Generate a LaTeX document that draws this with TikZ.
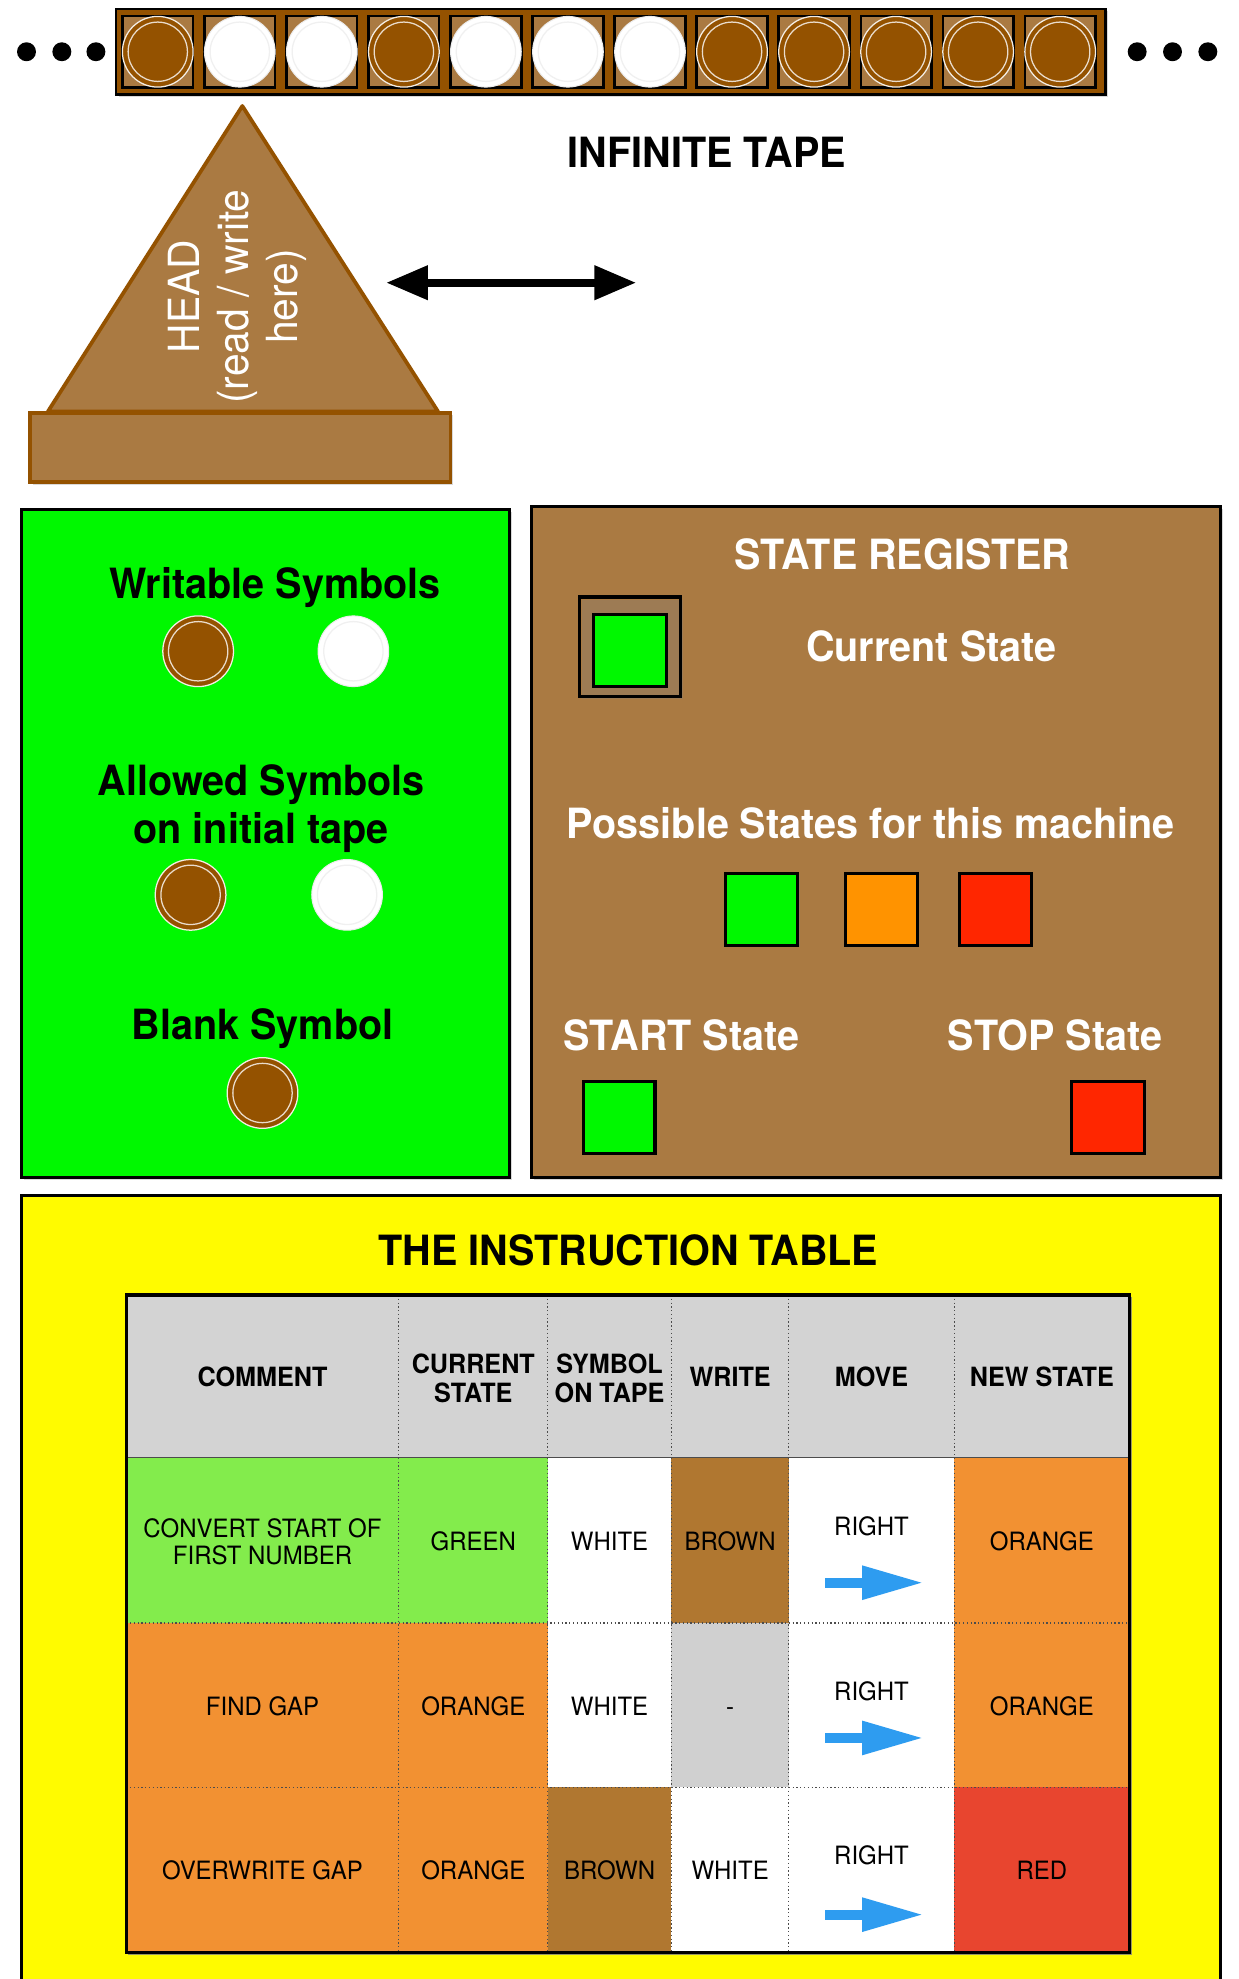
\documentclass[tikz,border=0pt]{standalone}
\usepackage{fontspec}
\setmainfont{TeX Gyre Heros}[FakeStretch=0.95]
\usetikzlibrary{arrows.meta,shadows}

\definecolor{tapedark}{RGB}{148,82,0}
\definecolor{cellbrown}{RGB}{170,122,66}
\definecolor{boxgreen}{RGB}{0,248,0}
\definecolor{stateorange}{RGB}{255,147,0}
\definecolor{statered}{RGB}{255,38,0}
\definecolor{boxyellow}{RGB}{255,251,0}
\definecolor{hdrgrey}{RGB}{211,211,211}
\definecolor{dashgrey}{RGB}{208,208,208}
\definecolor{tblgreen}{RGB}{131,236,76}
\definecolor{tblorange}{RGB}{242,145,50}
\definecolor{tblbrown}{RGB}{176,119,48}
\definecolor{tblred}{RGB}{232,69,47}
\definecolor{moveblue}{RGB}{46,156,240}

\begin{document}
\begin{tikzpicture}[x=1pt,y=-1pt,
  boxshadow/.style={drop shadow={opacity=.3,shadow xshift=2pt,shadow yshift=-2pt}},
  coinbrown/.style={fill=tapedark,draw=white!90!tapedark,line width=1},
  coinring/.style={draw=white!80!tapedark,line width=1},
  coinwhite/.style={fill=white,draw=gray!15,line width=.8},
  whitering/.style={draw=gray!12,line width=1},
  statesq/.style={draw=black,line width=2.5,drop shadow={opacity=.35,shadow xshift=1.5pt,shadow yshift=-1.5pt}},
  heading/.style={font=\bfseries\fontsize{33}{38}\selectfont,inner sep=0,anchor=base},
  headtext/.style={font=\fontsize{34}{39}\selectfont,white,align=center,inner sep=0,rotate=90},
  hdr/.style={font=\bfseries\fontsize{21}{22.5}\selectfont,align=center,inner sep=0},
  cell/.style={font=\fontsize{20}{22}\selectfont,align=center,inner sep=0},
  gridline/.style={gray!60!black,dotted,line width=1},
  movearrow/.style={moveblue,line width=8,-{Triangle[length=49pt,width=25pt]}}]
  \useasboundingbox (0,0) rectangle (981,1568);
  \clip (0,0) rectangle (981,1568);

  % tape
  \draw[fill=tapedark,line width=2,boxshadow] (92,7) rectangle (876,75);
  \foreach \i in {0,...,11}
    \draw[fill=cellbrown,line width=2] ({97+65*\i},12.5) rectangle ({153+65*\i},69.5);
  \foreach \i in {0,3,7,8,9,10,11}{
    \draw[coinbrown] ({125+65*\i},41) circle (28);
    \draw[coinring] ({125+65*\i},41) circle (23.5);}
  \foreach \i in {1,2,4,5,6}{
    \draw[coinwhite] ({125+65*\i},41) circle (28);
    \draw[whitering] ({125+65*\i},41) circle (23.5);}
  \foreach \x in {21,49,76,901,929,957}
    \fill (\x,41) circle (7.5);
  \node[heading] (tapelbl) at (560,133) {INFINITE TAPE};

  % head
  \draw[fill=cellbrown,draw=tapedark,line width=3,line join=round] (192,84) -- (347,326) -- (38,326) -- cycle;
  \draw[fill=cellbrown,draw=tapedark,line width=3,boxshadow] (24,327) rectangle (357,382);
  \node[headtext] (headlbl) at (188,235) {HEAD\\(read / write\\here)};
  \coordinate (moveL) at (306,224);
  \coordinate (moveR) at (504,224);
  \draw[line width=6,{Triangle[length=33pt,width=26pt]}-{Triangle[length=33pt,width=26pt]}] (moveL) -- (moveR);

  % symbols
  \draw[fill=boxgreen,line width=2.5,boxshadow] (17,404) rectangle (404,933);
  \node[heading] (writable) at (218,474) {Writable Symbols};
  \draw[coinbrown] (157,516) circle (28);
  \draw[coinring] (157,516) circle (23.5);
  \draw[coinwhite] (280,516) circle (28);
  \draw[whitering] (280,516) circle (23.5);
  \node[heading] (allowedA) at (207,630) {Allowed Symbols};
  \node[heading] (allowedB) at (207,668.5) {on initial tape};
  \draw[coinbrown] (151,709) circle (28);
  \draw[coinring] (151,709) circle (23.5);
  \draw[coinwhite] (275,709) circle (28);
  \draw[whitering] (275,709) circle (23.5);
  \node[heading] (blank) at (208,824) {Blank Symbol};
  \draw[coinbrown] (208,866) circle (28);
  \draw[coinring] (208,866) circle (23.5);

  % state register
  \draw[fill=cellbrown,line width=2.5,boxshadow] (421,401) rectangle (967,933);
  \node[heading,white] (reglbl) at (715,451) {STATE REGISTER};
  \draw[line width=2.5,boxshadow] (459,473) rectangle (539,552);
  \draw[statesq,fill=boxgreen] (470,487) rectangle (528,544);
  \node[heading,white] (curlbl) at (738,524) {Current State};
  \node[heading,white] (possible) at (690,664) {Possible States for this machine};
  \draw[statesq,fill=boxgreen] (575,692) rectangle (632,749);
  \draw[statesq,fill=stateorange] (670,692) rectangle (727,749);
  \draw[statesq,fill=statered] (760,692) rectangle (817,749);
  \node[heading,white] (startlbl) at (540,832) {START State};
  \node[heading,white] (stoplbl) at (836,832) {STOP State};
  \draw[statesq,fill=boxgreen] (462,857) rectangle (519,914);
  \draw[statesq,fill=statered] (849,857) rectangle (907,914);

  % instruction table
  \draw[fill=boxyellow,line width=2.5] (17,947) rectangle (967,1600);
  \node[heading] (tbltitle) at (498,1003) {THE INSTRUCTION TABLE};
  \fill[black,drop shadow={opacity=.8,shadow xshift=1.5pt,shadow yshift=-2pt}] (100,1026) rectangle (895,1547);
  \fill[hdrgrey] (100,1026) rectangle (895,1155);
  \foreach \xa/\xb/\col in {100/316/tblgreen,316/434/tblgreen,434/532/white,532/625/tblbrown,625/756/white,756/895/tblorange}
    \fill[\col] (\xa,1155) rectangle (\xb,1286);
  \foreach \xa/\xb/\col in {100/316/tblorange,316/434/tblorange,434/532/white,532/625/dashgrey,625/756/white,756/895/tblorange}
    \fill[\col] (\xa,1286) rectangle (\xb,1416);
  \foreach \xa/\xb/\col in {100/316/tblorange,316/434/tblorange,434/532/tblbrown,532/625/white,625/756/white,756/895/tblred}
    \fill[\col] (\xa,1416) rectangle (\xb,1547);
  \foreach \x in {316,434,532,625,756}
    \draw[gridline] (\x,1026) -- (\x,1547);
  \foreach \y in {1286,1416}
    \draw[gridline] (100,\y) -- (895,\y);
  \draw[gray!60!black,line width=1] (100,1155) -- (895,1155);
  \draw[line width=2.5] (100,1026) rectangle (895,1547);

  \node[hdr] (hComment) at (208,1091) {COMMENT};
  \node[hdr] (hCurrent) at (375,1092) {CURRENT\\STATE};
  \node[hdr] (hSymbol) at (483,1092) {SYMBOL\\ON TAPE};
  \node[hdr] (hWrite) at (578.5,1091) {WRITE};
  \node[hdr] (hMove) at (690.5,1091) {MOVE};
  \node[hdr] (hNew) at (825.5,1091) {NEW STATE};

  \node[cell] (aComment) at (208,1221.5) {CONVERT START OF\\FIRST NUMBER};
  \node[cell] (aCurrent) at (375,1221.5) {GREEN};
  \node[cell] (aSymbol) at (483,1221.5) {WHITE};
  \node[cell] (aWrite) at (578.5,1221.5) {BROWN};
  \node[cell] (aMove) at (690.5,1209.5) {RIGHT};
  \node[cell] (aNew) at (825.5,1221.5) {ORANGE};

  \node[cell] (bComment) at (208,1352) {FIND GAP};
  \node[cell] (bCurrent) at (375,1352) {ORANGE};
  \node[cell] (bSymbol) at (483,1352) {WHITE};
  \node[cell,anchor=base] (bWrite) at (578.5,1359) {-};
  \node[cell] (bMove) at (690.5,1340) {RIGHT};
  \node[cell] (bNew) at (825.5,1352) {ORANGE};

  \node[cell] (cComment) at (208,1481.5) {OVERWRITE GAP};
  \node[cell] (cCurrent) at (375,1481.5) {ORANGE};
  \node[cell] (cSymbol) at (483,1481.5) {BROWN};
  \node[cell] (cWrite) at (578.5,1481.5) {WHITE};
  \node[cell] (cMove) at (690.5,1470) {RIGHT};
  \node[cell] (cNew) at (825.5,1481.5) {RED};

  \foreach \y in {1254,1377,1517}
    \draw[movearrow] (654,\y) -- (732,\y);
\end{tikzpicture}
\end{document}
